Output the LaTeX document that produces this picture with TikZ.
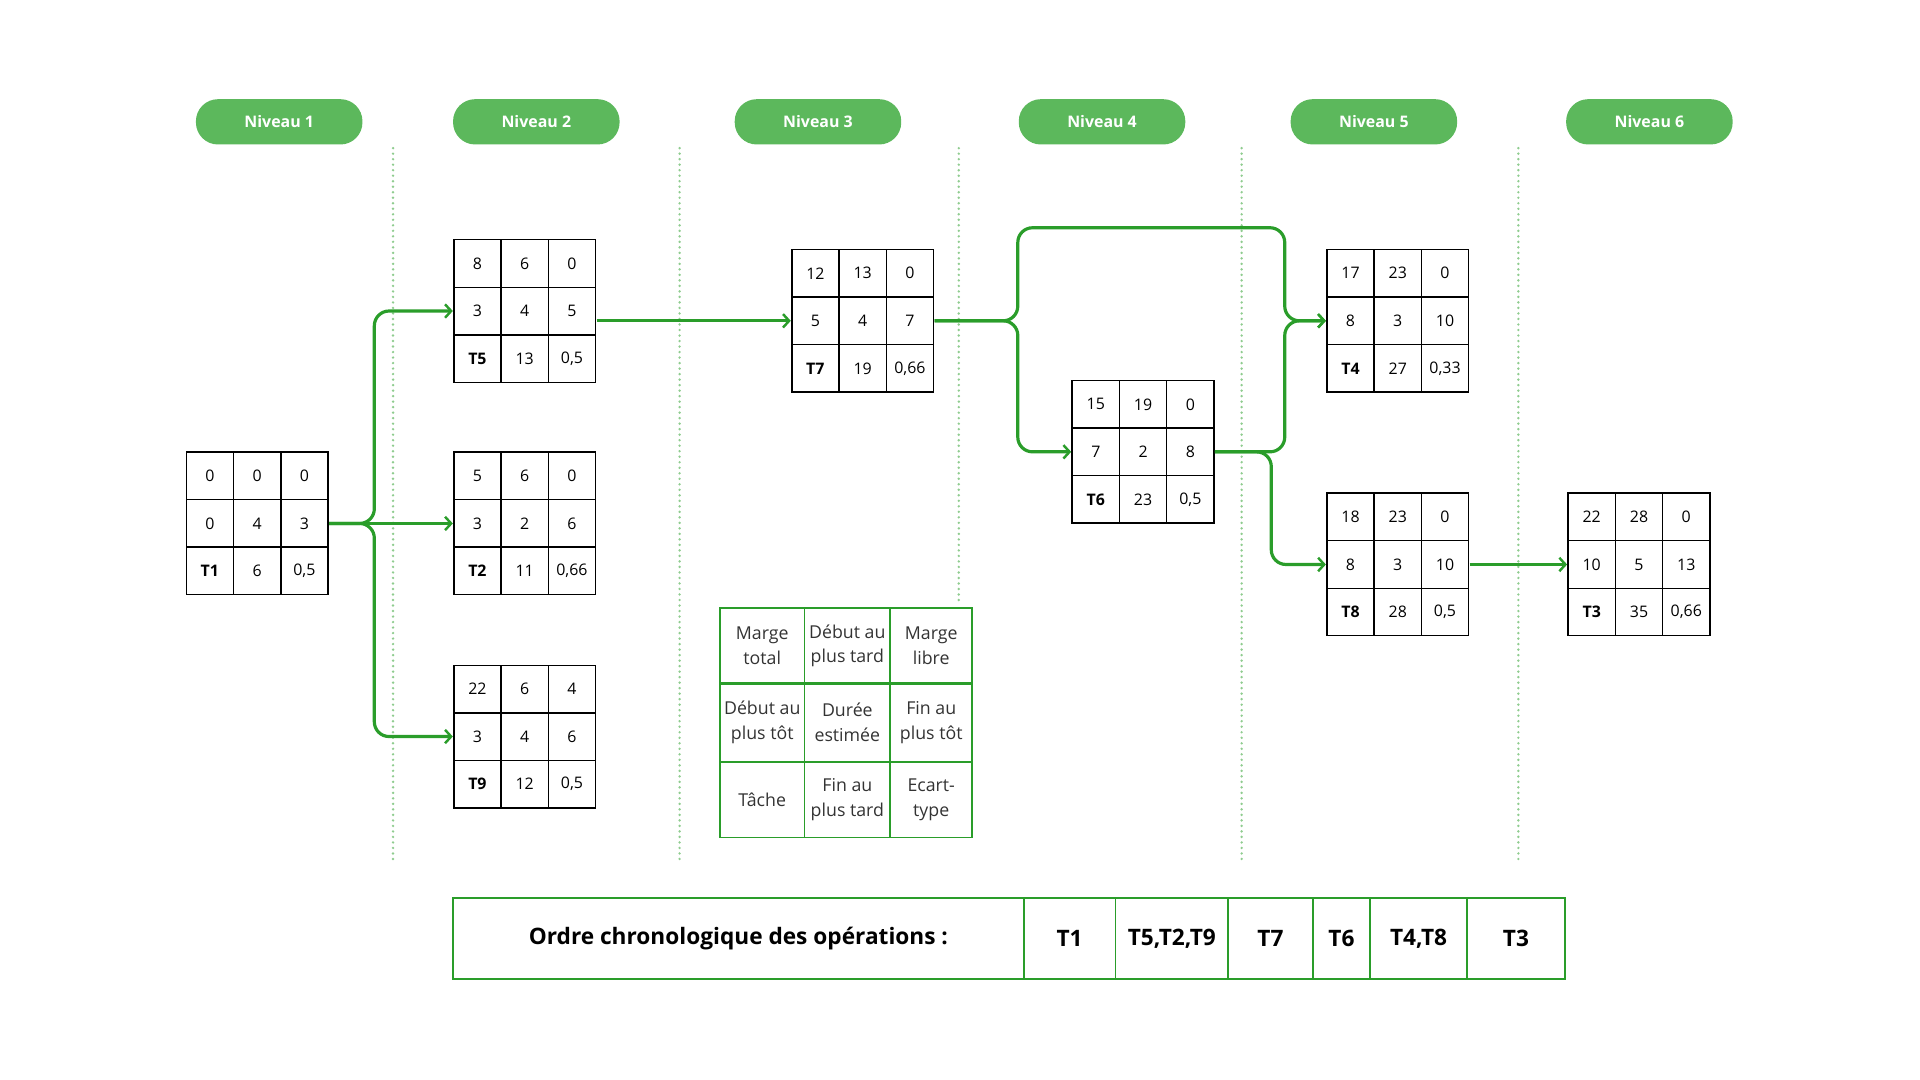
\documentclass[tikz,border=0pt]{standalone}
\usepackage{fontspec}
\setmainfont{Open Sans}
\usetikzlibrary{matrix,arrows.meta}
\definecolor{pill}{HTML}{5CB85C}
\definecolor{flowc}{HTML}{2A9D2A}
\definecolor{dotc}{HTML}{8FCC8F}
\begin{document}
\begin{tikzpicture}[x=1pt,y=-1pt,
  pillst/.style={rounded corners=18pt,fill=pill,text=white,font=\bfseries\fontsize{13}{15}\selectfont,minimum width=136pt,minimum height=37pt,inner sep=0},
  task/.style={matrix of nodes,nodes={draw,line width=1.2pt,minimum width=38.6pt,minimum height=38.8pt,anchor=center,inner sep=0,font=\fontsize{13}{15}\selectfont},column sep=-1.2pt,row sep=-1.2pt,inner sep=0},
  tk/.style={font=\bfseries\fontsize{13}{15}\selectfont},
  flow/.style={draw=flowc,line width=2.6pt,rounded corners=12pt,-{Straight Barb[length=5pt,width=11pt,line width=2pt]}},
  dots/.style={draw=dotc,line width=2.2pt,dash pattern=on 0pt off 4.5pt,line cap=round},
  leg/.style={draw=flowc,line width=1.5pt,text=black!80,font=\fontsize{14.5}{20}\selectfont,align=center,inner sep=0,outer sep=0,minimum height=62pt},
  bt/.style={draw=flowc,line width=1.5pt,font=\bfseries\fontsize{18.5}{22}\selectfont,minimum height=66pt,inner sep=0,outer sep=0}]
\useasboundingbox (0,0) rectangle (1568,882);
% pills
\node[pillst] (n1) at (228,99.5) {Niveau 1};
\node[pillst] (n2) at (438,99.5) {Niveau 2};
\node[pillst] (n3) at (668,99.5) {Niveau 3};
\node[pillst] (n4) at (900,99.5) {Niveau 4};
\node[pillst] (n5) at (1122,99.5) {Niveau 5};
\node[pillst] (n6) at (1347,99.5) {Niveau 6};
% dotted separators
\coordinate (d1a) at (321,121); \coordinate (d1b) at (321,705);
\coordinate (d2a) at (555,121); \coordinate (d2b) at (555,705);
\coordinate (d3a) at (783,121); \coordinate (d3b) at (783,494);
\coordinate (d4a) at (1014,121); \coordinate (d4b) at (1014,705);
\coordinate (d5a) at (1240,121); \coordinate (d5b) at (1240,705);
\foreach \a/\b in {d1a/d1b,d2a/d2b,d3a/d3b,d4a/d4b,d5a/d5b} \draw[dots] (\a) -- (\b);
% tasks
\matrix (t1) [task] at (210,427.5) {0&0&0\\0&4&3\\|[tk]|T1&6&0,5\\};
\matrix (t5) [task] at (428.5,254) {8&6&0\\3&4&5\\|[tk]|T5&13&0,5\\};
\matrix (t2) [task] at (428.5,427.5) {5&6&0\\3&2&6\\|[tk]|T2&11&0,66\\};
\matrix (t9) [task] at (428.5,601.5) {22&6&4\\3&4&6\\|[tk]|T9&12&0,5\\};
\matrix (t7) [task] at (704.5,262) {12&13&0\\5&4&7\\|[tk]|T7&19&0,66\\};
\matrix (t6) [task] at (933.5,369) {15&19&0\\7&2&8\\|[tk]|T6&23&0,5\\};
\matrix (t4) [task] at (1141.5,262) {17&23&0\\8&3&10\\|[tk]|T4&27&0,33\\};
\matrix (t8) [task] at (1141.5,461) {18&23&0\\8&3&10\\|[tk]|T8&28&0,5\\};
\matrix (t3) [task] at (1338.5,461) {22&28&0\\10&5&13\\|[tk]|T3&35&0,66\\};
% flows
\draw[flow] (t1.east) -- ++(37,0) |- (t5.west);
\draw[flow] (t1.east) -- (t2.west);
\draw[flow] (t1.east) -- ++(37,0) |- (t9.west);
\draw[flow] (t5.east |- t7.west) -- (t7.west);
\draw[flow] (t7.east) -- ++(68,0) -- ++(0,-76) -- ++(218,0) |- (t4.west);
\draw[flow] (t7.east) -- ++(68,0) |- (t6.west);
\draw[flow] (t6.east) -- ++(57,0) |- (t4.west);
\draw[flow] (t6.east) -- ++(46,0) |- (t8.west);
\draw[flow] (t8.east) -- (t3.west);
% legend
\node[leg,minimum width=69pt] (l11) at (622.5,527.5) {Marge\\total};
\node[leg,minimum width=70pt] (l12) at (692,527.5) {Début au\\plus tard};
\node[leg,minimum width=67pt] (l13) at (760.5,527.5) {Marge\\libre};
\node[leg,minimum width=69pt,minimum height=64pt] (l21) at (622.5,590) {Début au\\plus tôt};
\node[leg,minimum width=70pt,minimum height=64pt] (l22) at (692,590) {Durée\\estimée};
\node[leg,minimum width=67pt,minimum height=64pt] (l23) at (760.5,590) {Fin au\\plus tôt};
\node[leg,minimum width=69pt] (l31) at (622.5,653) {Tâche};
\node[leg,minimum width=70pt] (l32) at (692,653) {Fin au\\plus tard};
\node[leg,minimum width=67pt] (l33) at (760.5,653) {Ecart-\\type};
% bottom table
\node[bt,minimum width=466pt] (b0) at (603,766.5) {Ordre chronologique des opérations :};
\node[bt,minimum width=75pt] (b1) at (873.5,766.5) {T1};
\node[bt,minimum width=92pt] (b2) at (957,766.5) {T5,T2,T9};
\node[bt,minimum width=69pt] (b3) at (1037.5,766.5) {T7};
\node[bt,minimum width=47pt] (b4) at (1095.5,766.5) {T6};
\node[bt,minimum width=79pt] (b5) at (1158.5,766.5) {T4,T8};
\node[bt,minimum width=80pt] (b6) at (1238,766.5) {T3};
\end{tikzpicture}
\end{document}
